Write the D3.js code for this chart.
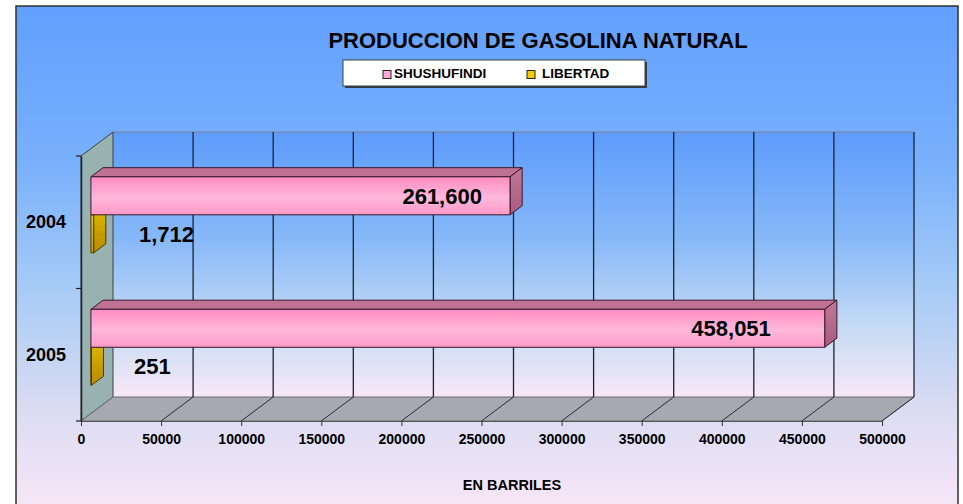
<!DOCTYPE html>
<html>
<head>
<meta charset="utf-8">
<script src="https://cdn.jsdelivr.net/npm/d3@7"></script>
<style>
  body { margin: 0; background: #ffffff; }
  text { font-family: Arial, "Liberation Sans", sans-serif; font-weight: bold; fill: #000; }
</style>
</head>
<body>
<script>
// data
const years = ["2004", "2005"];
const seriesNames = ["SHUSHUFINDI", "LIBERTAD"];
const shushufindi = [261600, 458051];
const libertad = [1712, 251];
const xTicks = [0, 50000, 100000, 150000, 200000, 250000, 300000, 350000, 400000, 450000, 500000];

const width = 963;
const height = 504;
const plot = { left: 81, right: 882, top: 156, bottom: 421 };
const depth = { dx: 32, dy: 24 };   // 3D offset of the back wall
const barZ = [0.31, 0.69];          // bar front / back as fraction of depth

const svg = d3.select("body").append("svg")
  .attr("width", width)
  .attr("height", height);

const defs = svg.append("defs");
function vgrad(id, stops) {
  const g = defs.append("linearGradient").attr("id", id)
    .attr("x1", 0).attr("y1", 0).attr("x2", 0).attr("y2", 1);
  stops.forEach(s => g.append("stop").attr("offset", s[0]).attr("stop-color", s[1]));
}
vgrad("bg", [[0, "#62a0ff"], [0.3, "#78b0fc"], [0.55, "#a8ccf6"], [0.78, "#dcdcf2"], [1, "#fce8f8"]]);
vgrad("wall", [[0, "#5e9cfc"], [0.4, "#86b8f8"], [0.75, "#c8dcf4"], [1, "#f8e8f8"]]);
vgrad("pinkFront", [[0, "#ff8cc0"], [0.55, "#ffb8dc"], [1, "#ff98c8"]]);
vgrad("pinkSide", [[0, "#c07898"], [1, "#a85c80"]]);
vgrad("goldFront", [[0, "#f0d000"], [1, "#c8a000"]]);
vgrad("goldSide", [[0, "#e0c000"], [0.6, "#c89c00"], [1, "#b88c00"]]);

// chart area
svg.append("rect")
  .attr("x", 16).attr("y", 6).attr("width", 942).attr("height", 520)
  .attr("fill", "url(#bg)")
  .attr("stroke", "#303030").attr("stroke-width", 1.5);

// scales
const x = d3.scaleLinear().domain([0, 500000]).range([plot.left, plot.right]);
const yBand = d3.scaleBand().domain(years).range([plot.top, plot.bottom]);
const ySeries = d3.scaleBand().domain(seriesNames)
  .range([0, yBand.bandwidth()]).paddingOuter(0.743);

const wallTop = plot.top - depth.dy;
const wallBottom = plot.bottom - depth.dy;
const pts = a => a.map(p => p.join(",")).join(" ");

// back wall
svg.append("rect")
  .attr("x", x(0) + depth.dx).attr("y", wallTop)
  .attr("width", x(500000) - x(0)).attr("height", wallBottom - wallTop)
  .attr("fill", "url(#wall)");
svg.append("line")
  .attr("x1", x(0) + depth.dx).attr("x2", x(500000) + depth.dx)
  .attr("y1", wallTop).attr("y2", wallTop)
  .attr("stroke", "#7c8494").attr("stroke-width", 1.2);

// left side wall
svg.append("polygon")
  .attr("points", pts([[x(0), plot.top], [x(0) + depth.dx, wallTop],
    [x(0) + depth.dx, wallBottom], [x(0), plot.bottom]]))
  .attr("fill", "#97b2b0").attr("stroke", "#3a4040").attr("stroke-width", 1);

// floor
svg.append("polygon")
  .attr("points", pts([[x(0), plot.bottom], [x(0) + depth.dx, wallBottom],
    [x(500000) + depth.dx, wallBottom], [x(500000), plot.bottom]]))
  .attr("fill", "#a8a8b2").attr("stroke", "#6a6a72").attr("stroke-width", 1);

// grid lines on back wall and floor
const grid = svg.append("g");
grid.selectAll(".vgrid").data(xTicks.slice(1)).join("line")
  .attr("x1", d => x(d) + depth.dx).attr("x2", d => x(d) + depth.dx)
  .attr("y1", wallTop).attr("y2", wallBottom)
  .attr("stroke", "#1e2230").attr("stroke-width", 1.3);
grid.selectAll(".fgrid").data(xTicks.slice(1)).join("line")
  .attr("x1", d => x(d)).attr("x2", d => x(d) + depth.dx)
  .attr("y1", plot.bottom).attr("y2", wallBottom)
  .attr("stroke", "#2a2a34").attr("stroke-width", 1);

// x axis
const xAxis = svg.append("g")
  .attr("transform", `translate(0,${plot.bottom})`)
  .call(d3.axisBottom(x).tickValues(xTicks).tickSize(5).tickSizeOuter(0).tickFormat(d3.format("d")));
xAxis.select(".domain").attr("stroke", "#555").attr("stroke-width", 1.2);
xAxis.selectAll(".tick line").attr("stroke", "#333");
xAxis.selectAll(".tick text")
  .attr("y", 13).attr("dy", "0.71em")
  .style("font-size", "14px").style("font-family", "Arial, 'Liberation Sans', sans-serif")
  .style("font-weight", "bold").attr("fill", "#000");

// y axis
const yAxis = svg.append("g")
  .attr("transform", `translate(${plot.left},0)`)
  .call(d3.axisLeft(yBand).tickSize(0).tickPadding(15));
yAxis.select(".domain").attr("stroke", "#222").attr("stroke-width", 1.5);
yAxis.selectAll(".tick text")
  .style("font-size", "18px").style("font-family", "Arial, 'Liberation Sans', sans-serif")
  .style("font-weight", "bold").attr("fill", "#000");
yAxis.selectAll(".bound").data([plot.top, ...years.map(y => yBand(y) + yBand.bandwidth())])
  .join("line")
  .attr("x1", -5).attr("x2", 0).attr("y1", d => d).attr("y2", d => d)
  .attr("stroke", "#222").attr("stroke-width", 1.2);

// 3D bars
const series = [
  { name: "LIBERTAD", values: libertad, front: "url(#goldFront)", top: "#d8b400", side: "url(#goldSide)", stroke: "#4a3a00" },
  { name: "SHUSHUFINDI", values: shushufindi, front: "url(#pinkFront)", top: "#c07294", side: "url(#pinkSide)", stroke: "#3a1828" }
];
const bars = svg.append("g");
const z0x = depth.dx * barZ[0], z0y = depth.dy * barZ[0];
const zdx = depth.dx * (barZ[1] - barZ[0]), zdy = depth.dy * (barZ[1] - barZ[0]);

years.forEach((yr, i) => {
  series.forEach(s => {
    const v = s.values[i];
    const xa = x(0) + z0x, xb = x(v) + z0x;
    const ya = yBand(yr) + ySeries(s.name) - z0y;
    const yb = ya + ySeries.bandwidth();
    const g = bars.append("g").attr("stroke", s.stroke).attr("stroke-width", 1)
      .attr("stroke-linejoin", "round");
    g.append("polygon")
      .attr("points", pts([[xa, ya], [xb, ya], [xb + zdx, ya - zdy], [xa + zdx, ya - zdy]]))
      .attr("fill", s.top);
    g.append("polygon")
      .attr("points", pts([[xb, ya], [xb + zdx, ya - zdy], [xb + zdx, yb - zdy], [xb, yb]]))
      .attr("fill", s.side);
    g.append("rect")
      .attr("x", xa).attr("y", ya).attr("width", xb - xa).attr("height", yb - ya)
      .attr("fill", s.front);
  });
});

// data labels
const fmt = d3.format(",");
years.forEach((yr, i) => {
  const ya = yBand(yr) + ySeries("SHUSHUFINDI") - z0y;
  const endX = x(shushufindi[i]) + z0x;
  svg.append("text")
    .attr("x", 0.918 * endX - 26)
    .attr("y", ya + ySeries.bandwidth() / 2)
    .attr("dy", "0.36em")
    .attr("text-anchor", "middle")
    .style("font-size", "22px")
    .text(fmt(shushufindi[i]));
  const yl = yBand(yr) + ySeries("LIBERTAD") - z0y;
  svg.append("text")
    .attr("x", x(0) + 58 - (libertad[i] < 1000 ? 5 : 0))
    .attr("y", yl + ySeries.bandwidth() / 2)
    .attr("dy", "0.36em")
    .attr("text-anchor", "start")
    .style("font-size", "22px")
    .text(fmt(libertad[i]));
});

// title
svg.append("text")
  .attr("x", 538).attr("y", 48)
  .attr("text-anchor", "middle")
  .style("font-size", "22px")
  .text("PRODUCCION DE GASOLINA NATURAL");

// legend
const legend = svg.append("g");
legend.append("rect")
  .attr("x", 345).attr("y", 62).attr("width", 302).attr("height", 26)
  .attr("fill", "#303848");
legend.append("rect")
  .attr("x", 343).attr("y", 60).attr("width", 302).attr("height", 26)
  .attr("fill", "#ffffff").attr("stroke", "#404040").attr("stroke-width", 1);
const legendItems = [
  { name: seriesNames[0], color: "#ffa8d4", x: 383 },
  { name: seriesNames[1], color: "#f0cc00", x: 527 }
];
legendItems.forEach(d => {
  legend.append("rect")
    .attr("x", d.x).attr("y", 70.5).attr("width", 8).attr("height", 8)
    .attr("fill", d.color).attr("stroke", "#222").attr("stroke-width", 1);
  legend.append("text")
    .attr("x", d.x + (d.name === "LIBERTAD" ? 15 : 11)).attr("y", 78)
    .style("font-size", "13.5px")
    .text(d.name);
});

// x axis title
svg.append("text")
  .attr("x", 512).attr("y", 490)
  .attr("text-anchor", "middle")
  .style("font-size", "14.5px")
  .text("EN BARRILES");
</script>
</body>
</html>
